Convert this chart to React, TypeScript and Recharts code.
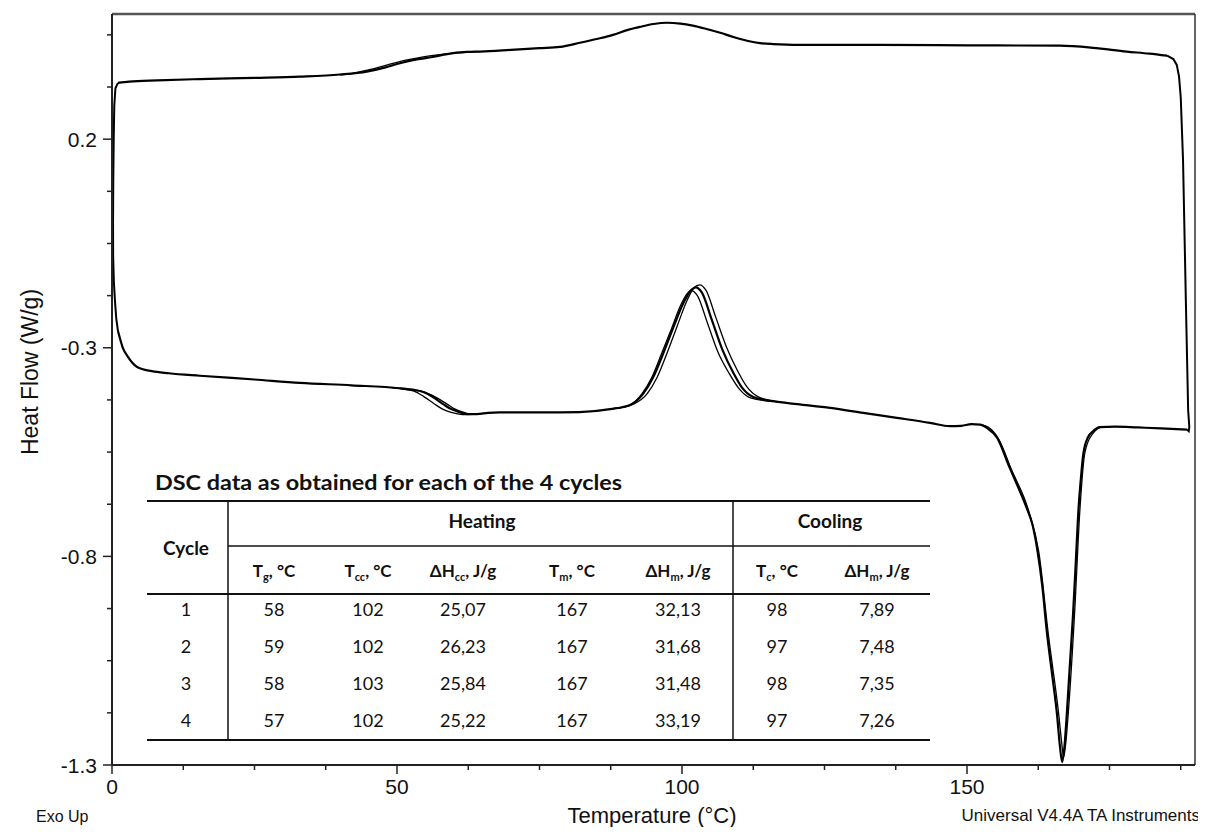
import React from "react";
import { LineChart, Line, XAxis, YAxis, ReferenceLine } from "recharts";

// ---- curve data: [temperature °C, heat flow W/g] ----
// cooling trace (upper), listed by rising temperature
const coolCycle1 = [
  [1.05, 0.335], [3, 0.338], [8, 0.341], [15.4, 0.344], [25, 0.347], [33, 0.35], [40, 0.355],
  [44.7, 0.362], [48, 0.372], [50.5, 0.382], [53, 0.39], [56.3, 0.397], [58.8, 0.404], [62.3, 0.409],
  [64.6, 0.41], [70, 0.414], [75, 0.418], [78.6, 0.421], [82.1, 0.431], [85, 0.44], [87.9, 0.45],
  [90.5, 0.462], [92.6, 0.469], [95, 0.476], [97.4, 0.479], [99.7, 0.477], [101.9, 0.472],
  [104.3, 0.464], [106.7, 0.455], [109, 0.445], [111.4, 0.436], [113.7, 0.43], [116, 0.428],
  [123, 0.426], [134.7, 0.426], [150, 0.425], [166.3, 0.424], [172.1, 0.419], [178, 0.41],
  [182, 0.405], [185.1, 0.4],
];
const coolCycle2Step = [
  [40, 0.354], [42, 0.357], [45, 0.366], [48, 0.377], [50.5, 0.386], [53, 0.393], [56, 0.4],
  [59, 0.405], [62, 0.408], [64.6, 0.41],
];
// heating trace (lower)
const heatCycle1 = [
  [1.05, -0.26], [1.9, -0.3], [2.8, -0.322], [4.4, -0.346], [7, -0.356], [10, -0.361], [15.4, -0.367],
  [25, -0.376], [33, -0.384], [42, -0.39], [50.5, -0.397], [53, -0.401], [54.6, -0.406],
  [56.3, -0.418], [58.1, -0.435], [59.5, -0.447], [60.5, -0.452], [62.3, -0.459], [64, -0.459],
  [66, -0.456], [68, -0.455], [75, -0.455], [82, -0.454], [87.4, -0.447], [90.9, -0.437],
  [93.2, -0.41], [94.9, -0.372], [96.7, -0.314], [98.4, -0.254], [100.2, -0.194], [101.4, -0.165],
  [102.4, -0.155], [103.5, -0.168], [105.2, -0.232], [107.1, -0.305], [109, -0.36], [110.5, -0.395],
  [112.5, -0.418], [116, -0.428], [120.2, -0.435], [126, -0.444], [131.8, -0.456], [137.7, -0.468],
  [143.5, -0.48], [147, -0.488], [149, -0.487], [150.8, -0.483], [152.3, -0.484], [153.5, -0.492],
  [155.3, -0.516], [157.5, -0.588], [159, -0.635], [160.5, -0.685], [161.5, -0.725], [162.3, -0.781],
  [163.2, -0.87], [164, -0.98], [165, -1.09], [165.8, -1.18], [166.3, -1.255], [166.7, -1.293],
  [167.1, -1.255], [167.5, -1.18], [168, -1.07], [168.6, -0.94], [169.1, -0.81], [169.5, -0.7],
  [170, -0.61], [170.4, -0.555], [171.2, -0.515], [172.1, -0.5], [173.3, -0.49], [176, -0.489],
  [180, -0.491], [184, -0.493], [188.6, -0.496],
];
const heatCycle2Tg = [
  [50.5, -0.397], [52, -0.399], [54, -0.403], [55.5, -0.41], [57, -0.42], [58.8, -0.435],
  [60.2, -0.447], [61.3, -0.453], [63, -0.459], [65, -0.458],
];
const heatCycle4Tg = [
  [49, -0.395], [51, -0.399], [53, -0.404], [54.7, -0.417], [56.5, -0.434], [58, -0.447],
  [59.5, -0.455], [61.5, -0.46], [64, -0.459],
];
const heatCycle2Tcc = [
  [88, -0.446], [91, -0.436], [93, -0.41], [94.6, -0.374], [96.3, -0.318], [98, -0.26],
  [99.7, -0.2], [100.8, -0.172], [101.6, -0.163], [102.7, -0.175], [104.4, -0.238],
  [106.3, -0.31], [108.3, -0.362], [110, -0.398], [112, -0.42], [116, -0.429],
];
const heatCycle3Tcc = [
  [88, -0.446], [91.5, -0.435], [93.9, -0.41], [95.6, -0.372], [97.4, -0.312], [99.1, -0.25],
  [100.9, -0.186], [102.1, -0.156], [103.1, -0.149], [104.2, -0.162], [105.9, -0.226],
  [107.8, -0.298], [109.7, -0.354], [111.3, -0.392], [113.3, -0.417], [117, -0.43],
];
const heatCycle2Tm = [
  [152.3, -0.484], [153.7, -0.49], [155.6, -0.52], [157.8, -0.592], [160.8, -0.69], [162.6, -0.79],
  [164.3, -0.99], [166.1, -1.18], [166.6, -1.245], [166.95, -1.281], [167.35, -1.245],
  [167.8, -1.17], [168.9, -0.93], [169.8, -0.69], [170.7, -0.55], [172.4, -0.5], [173.5, -0.49],
];
// isothermal jumps at both ends of the loop
const jumpLow = [
  [1.05, 0.335], [0.6, 0.322], [0.4, 0.28], [0.3, 0.2], [0.22, 0.1], [0.18, 0.0], [0.2, -0.08],
  [0.32, -0.14], [0.53, -0.19], [0.75, -0.23], [1.05, -0.26],
];
const jumpHigh = [
  [185.1, 0.4], [186.2, 0.392], [186.8, 0.378], [187.2, 0.35], [187.5, 0.3], [187.9, 0.15],
  [188.4, -0.19], [188.8, -0.45], [189.0, -0.49], [188.9, -0.5], [188.6, -0.496],
];

// ---- axes ----
const xTicks = [0, 12.5, 25, 37.5, 50, 62.5, 75, 87.5, 100, 112.5, 125, 137.5, 150, 162.5, 175, 187.5];
const xTickLabels = [0, 50, 100, 150];
const yTicks = [-1.3, -1.175, -1.05, -0.925, -0.8, -0.675, -0.55, -0.425, -0.3, -0.175, -0.05, 0.075, 0.2, 0.325, 0.45];
const yTickLabels = [-1.3, -0.8, -0.3, 0.2];

// ---- table ----
const tableCycles = ["1", "2", "3", "4"];
const tableTg = ["58", "59", "58", "57"];
const tableTcc = ["102", "102", "103", "102"];
const tableHcc = ["25,07", "26,23", "25,84", "25,22"];
const tableTm = ["167", "167", "167", "167"];
const tableHm = ["32,13", "31,68", "31,48", "33,19"];
const tableTc = ["98", "97", "98", "97"];
const tableHc = ["7,89", "7,48", "7,35", "7,26"];
const tableHeads = [
  ["T", "g", ", °C"], ["T", "cc", ", °C"], ["ΔH", "cc", ", J/g"], ["T", "m", ", °C"],
  ["ΔH", "m", ", J/g"], ["T", "c", ", °C"], ["ΔH", "m", ", J/g"],
];

const FONT = "'Liberation Sans', Arial, sans-serif";
const TFONT = "Lato, 'Open Sans', sans-serif";

const pts = (rows: number[][]) => rows.map(([x, y]) => ({ x, y }));
const near = (list: number[], v: number) => list.some((l) => Math.abs(l - v) < 1e-6);

function XTick(props: any) {
  const { x, y, payload } = props;
  const major = near(xTickLabels, payload.value);
  return (
    <g>
      <line x1={x} x2={x} y1={y} y2={y + (major ? 9 : 5)} stroke="#222" strokeWidth={1.5} />
      {major && (
        <text x={x} y={y + 29} textAnchor="middle" fontSize={21} fontFamily={FONT} fill="#111">
          {payload.value}
        </text>
      )}
    </g>
  );
}

function YTick(props: any) {
  const { x, y, payload } = props;
  const major = near(yTickLabels, payload.value);
  return (
    <g>
      <line x1={x - (major ? 9 : 5)} x2={x} y1={y} y2={y} stroke="#222" strokeWidth={1.5} />
      {major && (
        <text x={x - 15} y={y + 7.5} textAnchor="end" fontSize={21} fontFamily={FONT} fill="#111">
          {payload.value.toFixed(1)}
        </text>
      )}
    </g>
  );
}

const colX = [274, 368, 463, 572, 678, 777, 877];
const rowY = [616, 653, 690, 727];

function Table() {
  const cols = [tableTg, tableTcc, tableHcc, tableTm, tableHm, tableTc, tableHc];
  return (
    <g fontFamily={TFONT} fill="#111">
      <text x={155} y={490} fontSize={20} fontWeight="bold" textLength={467} lengthAdjust="spacingAndGlyphs">
        DSC data as obtained for each of the 4 cycles
      </text>
      <line x1={147} x2={930} y1={501} y2={501} stroke="#111" strokeWidth={2} />
      <line x1={228} x2={930} y1={546} y2={546} stroke="#111" strokeWidth={1.5} />
      <line x1={147} x2={930} y1={594} y2={594} stroke="#111" strokeWidth={2} />
      <line x1={147} x2={930} y1={740} y2={740} stroke="#111" strokeWidth={2} />
      <line x1={228} x2={228} y1={501} y2={740} stroke="#111" strokeWidth={1.5} />
      <line x1={733} x2={733} y1={501} y2={740} stroke="#111" strokeWidth={1.5} />
      <text x={482} y={528} fontSize={19} fontWeight="bold" textAnchor="middle">Heating</text>
      <text x={830} y={528} fontSize={19} fontWeight="bold" textAnchor="middle">Cooling</text>
      <text x={186} y={555} fontSize={19} fontWeight="bold" textAnchor="middle">Cycle</text>
      {tableHeads.map(([m, s, u], i) => (
        <text key={i} x={colX[i]} y={577} fontSize={17} fontWeight="bold" textAnchor="middle">
          <tspan>{m}</tspan>
          <tspan dy={4} fontSize={11}>{s}</tspan>
          <tspan dy={-4}>{u}</tspan>
        </text>
      ))}
      {tableCycles.map((c, r) => (
        <g key={r} fontSize={18}>
          <text x={186} y={rowY[r]} textAnchor="middle">{c}</text>
          {cols.map((col, i) => (
            <text key={i} x={colX[i]} y={rowY[r]} textAnchor="middle">{col[r]}</text>
          ))}
        </g>
      ))}
    </g>
  );
}

const strand = { dataKey: "y", stroke: "#000", dot: false, activeDot: false, isAnimationActive: false } as const;

export default function App() {
  return (
    <div style={{ position: "relative", width: 1190, height: 819 }}>
      <LineChart width={1190} height={819} margin={{ top: 6, right: 3, left: 0, bottom: 0 }}>
        <XAxis
          type="number" dataKey="x" domain={[0, 190]} ticks={xTicks} allowDataOverflow
          height={62} tickSize={0} tickMargin={0} tickLine={false} interval={0}
          axisLine={{ stroke: "#222", strokeWidth: 2 }} tick={<XTick />}
        />
        <YAxis
          type="number" domain={[-1.3, 0.5]} ticks={yTicks} allowDataOverflow
          width={104} tickSize={0} tickMargin={0} tickLine={false} interval={0}
          axisLine={{ stroke: "#222", strokeWidth: 2 }} tick={<YTick />}
        />
        <ReferenceLine y={0.5} stroke="#555" strokeWidth={2.5} />
        <ReferenceLine x={190} stroke="#333" strokeWidth={1.5} />
        <Line {...strand} data={pts(jumpLow)} type="linear" strokeWidth={2} />
        <Line {...strand} data={pts(jumpHigh)} type="linear" strokeWidth={2} />
        <Line {...strand} data={pts(coolCycle1)} type="monotone" strokeWidth={2.2} />
        <Line {...strand} data={pts(coolCycle2Step)} type="monotone" strokeWidth={1.3} />
        <Line {...strand} data={pts(heatCycle1)} type="monotone" strokeWidth={2.2} />
        <Line {...strand} data={pts(heatCycle2Tg)} type="monotone" strokeWidth={1.3} />
        <Line {...strand} data={pts(heatCycle4Tg)} type="monotone" strokeWidth={1.3} />
        <Line {...strand} data={pts(heatCycle2Tcc)} type="monotone" strokeWidth={1.3} />
        <Line {...strand} data={pts(heatCycle3Tcc)} type="monotone" strokeWidth={1.3} />
        <Line {...strand} data={pts(heatCycle2Tm)} type="monotone" strokeWidth={1.3} />
      </LineChart>
      <svg width={1206} height={835} style={{ position: "absolute", left: -8, top: -8, pointerEvents: "none" }}>
        <Table />
        <text x={30} y={372} transform="rotate(-90 30 372)" textAnchor="middle" dominantBaseline="central"
          fontSize={23} fontFamily={FONT} fill="#111">Heat Flow (W/g)</text>
        <text x={652} y={823} textAnchor="middle" fontSize={22} fontFamily={FONT} fill="#111">Temperature (°C)</text>
        <text x={36} y={822} fontSize={16} fontFamily={FONT} fill="#111">Exo Up</text>
        <text x={1200} y={821} textAnchor="end" fontSize={17} fontFamily={FONT} fill="#111">Universal V4.4A TA Instruments</text>
      </svg>
    </div>
  );
}
